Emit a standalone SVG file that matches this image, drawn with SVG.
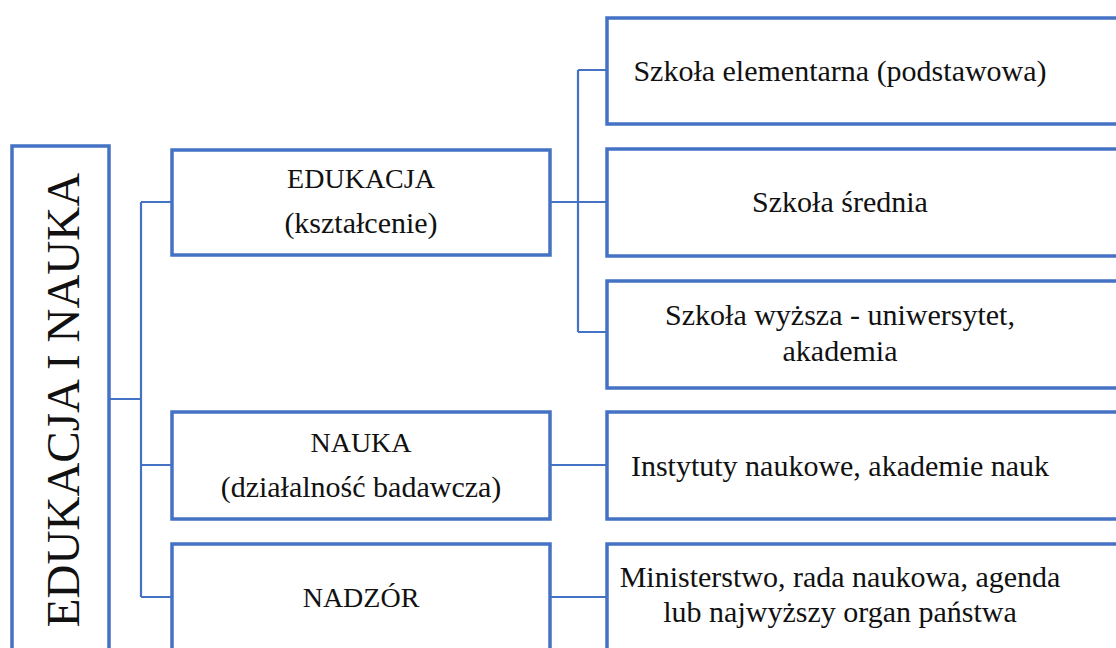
<svg xmlns="http://www.w3.org/2000/svg" width="1116" height="648" viewBox="0 0 1116 648">
<style>
.box{fill:#ffffff;stroke:#4472C4;stroke-width:3.5}
.con{fill:none;stroke:#4472C4;stroke-width:2.2}
text{font-family:"Liberation Serif","DejaVu Serif",serif;fill:#111111;text-anchor:middle}
.t{font-size:30px}
.c{font-size:28px}
.big{font-size:47px}
</style>
<rect width="1116" height="648" fill="#ffffff"/>
<g id="connectors">
<path class="con" d="M109 399 H141 M141 202 V597 M141 202 H172 M141 465 H172 M141 597 H172"/>
<path class="con" d="M550 202 H578 M578 70 V332 M578 70 H607 M578 202 H607 M578 332 H607"/>
<path class="con" d="M550 465 H607 M550 597 H607"/>
</g>
<g id="root">
<rect class="box" x="12" y="146" width="97" height="520"/>
<text class="big" transform="translate(79,400) rotate(-90)">EDUKACJA I NAUKA</text>
</g>
<g id="edukacja">
<rect class="box" x="172" y="150" width="378" height="105"/>
<text class="c" x="361" y="188">EDUKACJA</text>
<text class="t" x="361" y="233">(kształcenie)</text>
</g>
<g id="nauka">
<rect class="box" x="172" y="412" width="378" height="107"/>
<text class="c" x="361" y="452">NAUKA</text>
<text class="t" x="361" y="497">(działalność badawcza)</text>
</g>
<g id="nadzor">
<rect class="box" x="172" y="544" width="378" height="130"/>
<text class="c" x="361" y="607">NADZÓR</text>
</g>
<g id="szkola-elementarna">
<rect class="box" x="607" y="18" width="530" height="106"/>
<text class="t" x="840" y="81">Szkoła elementarna (podstawowa)</text>
</g>
<g id="szkola-srednia">
<rect class="box" x="607" y="149" width="530" height="107"/>
<text class="t" x="840" y="212">Szkoła średnia</text>
</g>
<g id="szkola-wyzsza">
<rect class="box" x="607" y="281" width="530" height="107"/>
<text class="t" x="840" y="325">Szkoła wyższa - uniwersytet,</text>
<text class="t" x="840" y="361">akademia</text>
</g>
<g id="instytuty">
<rect class="box" x="607" y="412" width="530" height="107"/>
<text class="t" x="840" y="476">Instytuty naukowe, akademie nauk</text>
</g>
<g id="ministerstwo">
<rect class="box" x="607" y="544" width="530" height="130"/>
<text class="t" x="840" y="587">Ministerstwo, rada naukowa, agenda</text>
<text class="t" x="840" y="622">lub najwyższy organ państwa</text>
</g>
</svg>
